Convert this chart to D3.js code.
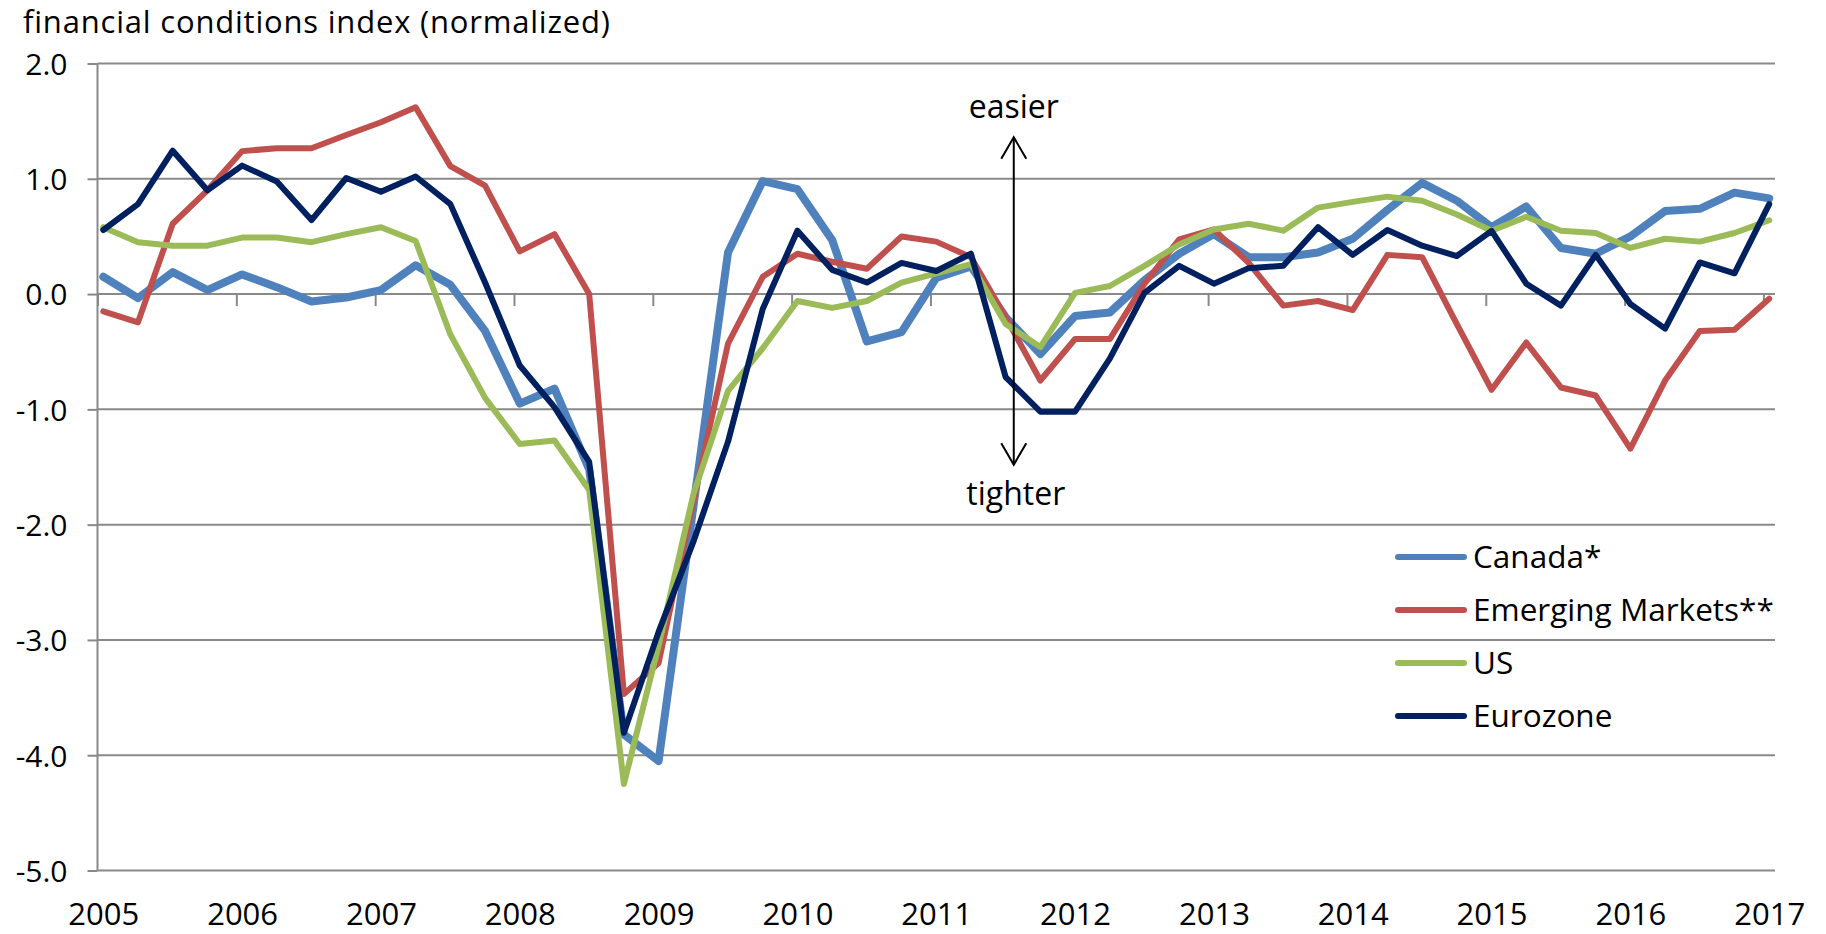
<!DOCTYPE html>
<html>
<head>
<meta charset="utf-8">
<script src="https://cdn.jsdelivr.net/npm/d3@7"></script>
<style>
  html, body { margin: 0; padding: 0; background: #ffffff; }
  svg { display: block; }
  text { font-family: "Open Sans", "Noto Sans", sans-serif; fill: #000; }
</style>
</head>
<body>
<svg id="chart" width="1826" height="934"></svg>
<script>
// ---------- data ----------
const quarters = [
  "2005Q1","2005Q2","2005Q3","2005Q4","2006Q1","2006Q2","2006Q3","2006Q4",
  "2007Q1","2007Q2","2007Q3","2007Q4","2008Q1","2008Q2","2008Q3","2008Q4",
  "2009Q1","2009Q2","2009Q3","2009Q4","2010Q1","2010Q2","2010Q3","2010Q4",
  "2011Q1","2011Q2","2011Q3","2011Q4","2012Q1","2012Q2","2012Q3","2012Q4",
  "2013Q1","2013Q2","2013Q3","2013Q4","2014Q1","2014Q2","2014Q3","2014Q4",
  "2015Q1","2015Q2","2015Q3","2015Q4","2016Q1","2016Q2","2016Q3","2016Q4",
  "2017Q1"
];
const canada = [
  0.15,-0.035,0.19,0.035,0.17,0.06,-0.065,-0.03,
  0.035,0.25,0.08,-0.32,-0.95,-0.82,-1.52,-3.82,
  -4.05,-1.85,0.36,0.98,0.91,0.47,-0.41,-0.33,
  0.14,0.24,-0.20,-0.52,-0.19,-0.16,0.12,0.35,
  0.52,0.32,0.32,0.36,0.48,0.73,0.965,0.81,
  0.58,0.76,0.40,0.35,0.50,0.72,0.74,0.88,
  0.83
];
const emergingMarkets = [
  -0.15,-0.245,0.61,0.90,1.24,1.265,1.265,1.38,
  1.49,1.62,1.11,0.94,0.37,0.52,0.0,-3.47,
  -3.2,-1.8,-0.43,0.15,0.35,0.28,0.22,0.50,
  0.455,0.32,-0.20,-0.75,-0.39,-0.39,0.09,0.475,
  0.56,0.27,-0.10,-0.06,-0.14,0.34,0.32,-0.26,
  -0.83,-0.42,-0.81,-0.88,-1.34,-0.75,-0.32,-0.31,
  -0.04
];
const us = [
  0.58,0.45,0.42,0.42,0.49,0.49,0.45,0.52,
  0.58,0.46,-0.35,-0.90,-1.30,-1.27,-1.70,-4.25,
  -3.05,-1.74,-0.84,-0.47,-0.06,-0.12,-0.06,0.10,
  0.18,0.26,-0.26,-0.46,0.01,0.07,0.245,0.43,
  0.56,0.61,0.55,0.75,0.80,0.845,0.81,0.69,
  0.55,0.67,0.55,0.53,0.40,0.48,0.455,0.53,
  0.64
];
const eurozone = [
  0.556,0.78,1.244,0.90,1.114,0.977,0.642,1.007,
  0.888,1.02,0.78,0.10,-0.62,-0.98,-1.456,-3.806,
  -2.93,-2.15,-1.28,-0.13,0.55,0.21,0.10,0.27,
  0.20,0.35,-0.72,-1.02,-1.02,-0.56,0.01,0.245,
  0.09,0.225,0.245,0.58,0.34,0.556,0.42,0.33,
  0.548,0.09,-0.10,0.34,-0.086,-0.30,0.274,0.18,
  0.78
];
const seriesNames = ["Canada*", "Emerging Markets**", "US", "Eurozone"];
const seriesColors = ["#4F81BD", "#C0504D", "#9BBB59", "#002060"];
const yearLabels = [2005,2006,2007,2008,2009,2010,2011,2012,2013,2014,2015,2016,2017];
const yTicks = [2,1,0,-1,-2,-3,-4,-5];
const titleText = "financial conditions index (normalized)";
const annotationTop = "easier";
const annotationBottom = "tighter";

// ---------- layout ----------
const svg = d3.select("#chart");
const plotLeft = 97.5, plotRight = 1775, plotTop = 63.5, plotBottom = 870.5;
const startYear = 2005;
const monthIndex = q => (+q.slice(0,4) - startYear) * 12 + (+q.slice(5) - 1) * 3 + 0.5;

const x = d3.scaleLinear().domain([0, 145]).range([plotLeft, plotRight]);
const y = d3.scaleLinear().domain([-5, 2]).range([plotBottom, plotTop]);

const gridColor = "#898989";

// gridlines + y ticks
const yAxis = d3.axisLeft(y).tickValues(yTicks).tickSize(10).tickPadding(20)
  .tickFormat(v => v.toFixed(1));
const yg = svg.append("g").attr("transform", `translate(${plotLeft},0)`).call(yAxis);
yg.select(".domain").remove();
yg.selectAll(".tick line").attr("stroke", gridColor).attr("stroke-width", 2);
yg.selectAll(".tick text").attr("font-size", 30).attr("fill", "#000")
  .attr("font-family", "'Open Sans', sans-serif").attr("dy", "0.36em");

svg.append("g").selectAll("line").data(yTicks).join("line")
  .attr("x1", plotLeft).attr("x2", plotRight)
  .attr("y1", d => y(d)).attr("y2", d => y(d))
  .attr("stroke", gridColor).attr("stroke-width", 2);

// vertical axis line
svg.append("line").attr("x1", plotLeft).attr("x2", plotLeft)
  .attr("y1", y(2)).attr("y2", y(-5))
  .attr("stroke", gridColor).attr("stroke-width", 2);

// x ticks at year boundaries on the zero line
const xTickAxis = d3.axisBottom(x).tickValues(yearLabels.map(yr => (yr - startYear) * 12))
  .tickSize(12).tickFormat("");
const xg = svg.append("g").attr("transform", `translate(0,${y(0)})`).call(xTickAxis);
xg.select(".domain").remove();
xg.selectAll(".tick line").attr("stroke", gridColor).attr("stroke-width", 2);

// year labels at bottom, centred on January of each year
const xLabelAxis = d3.axisBottom(x).tickValues(yearLabels.map(yr => (yr - startYear) * 12 + 0.5))
  .tickSize(0).tickPadding(0).tickFormat((d, i) => yearLabels[i]);
const xl = svg.append("g").attr("transform", `translate(0,${y(-5)})`).call(xLabelAxis);
xl.select(".domain").remove();
xl.selectAll(".tick text").attr("font-size", 31).attr("fill", "#000")
  .attr("font-family", "'Open Sans', sans-serif").attr("dy", null).attr("y", 54.5);

// series lines
const allSeries = [canada, emergingMarkets, us, eurozone];
const widths = [8, 6, 6, 6];
const line = d3.line().x(d => x(d.m)).y(d => y(d.v));
allSeries.forEach((vals, k) => {
  const pts = vals.map((v, i) => ({ m: monthIndex(quarters[i]), v }));
  svg.append("path").datum(pts).attr("d", line)
    .attr("fill", "none").attr("stroke", seriesColors[k])
    .attr("stroke-width", widths[k])
    .attr("stroke-linejoin", "round").attr("stroke-linecap", "round");
});

// title
svg.append("text").attr("x", 23).attr("y", 33).attr("font-size", 31)
  .attr("letter-spacing", 0.8).text(titleText);

// easier / tighter annotation
const arrowM = 79.2, arrowTopV = 1.36, arrowBotV = -1.48;
const ax = x(arrowM), ay1 = y(arrowTopV), ay2 = y(arrowBotV);
const ag = svg.append("g").attr("stroke", "#000").attr("stroke-width", 2).attr("fill", "none");
ag.append("line").attr("x1", ax).attr("x2", ax).attr("y1", ay1).attr("y2", ay2);
ag.append("path").attr("d", `M${ax-12.5},${ay1+21.5} L${ax},${ay1} L${ax+12.5},${ay1+21.5}`);
ag.append("path").attr("d", `M${ax-12.5},${ay2-21.5} L${ax},${ay2} L${ax+12.5},${ay2-21.5}`);
svg.append("text").attr("x", ax).attr("y", ay1 - 19).attr("text-anchor", "middle")
  .attr("font-size", 32).text(annotationTop);
svg.append("text").attr("x", ax + 2).attr("y", ay2 + 40).attr("text-anchor", "middle")
  .attr("font-size", 32).text(annotationBottom);

// legend
const legX = 1395, legY = 557, legStep = 53;
const lg = svg.append("g");
seriesNames.forEach((name, k) => {
  const yy = legY + k * legStep;
  lg.append("line").attr("x1", legX + 3).attr("x2", legX + 69).attr("y1", yy).attr("y2", yy)
    .attr("stroke", seriesColors[k]).attr("stroke-width", 6).attr("stroke-linecap", "round");
  lg.append("text").attr("x", legX + 78).attr("y", yy).attr("dy", "0.36em")
    .attr("font-size", 31.5).text(name);
});
</script>
</body>
</html>
